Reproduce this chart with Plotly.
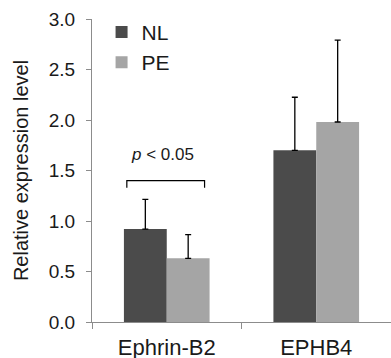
import plotly.graph_objects as go

categories = ["Ephrin-B2", "EPHB4"]
nl_values = [0.92, 1.70]
pe_values = [0.63, 1.98]
nl_err = [0.295, 0.525]
pe_err = [0.235, 0.81]
y_ticks = [0.0, 0.5, 1.0, 1.5, 2.0, 2.5, 3.0]

FONT = "Liberation Sans, Arial, sans-serif"
AX = "#8c8c8c"
TXT = "#1a1a1a"

fig = go.Figure()
fig.add_trace(go.Bar(
    x=categories, y=nl_values, name="NL", marker_color="#4b4b4b", marker_line_width=0,
    error_y=dict(type="data", array=nl_err, arrayminus=[0, 0], symmetric=False,
                 color="black", thickness=1.3, width=3),
))
fig.add_trace(go.Bar(
    x=categories, y=pe_values, name="PE", marker_color="#a5a5a5", marker_line_width=0,
    error_y=dict(type="data", array=pe_err, arrayminus=[0, 0], symmetric=False,
                 color="black", thickness=1.3, width=3),
))

# significance bracket
bracket_y = 1.40
bracket_drop = 0.07
fig.add_shape(type="path", xref="x", yref="y",
              path=f"M -0.267,{bracket_y-bracket_drop} L -0.267,{bracket_y} L 0.253,{bracket_y} L 0.253,{bracket_y-bracket_drop}",
              line=dict(color="black", width=1.2))
fig.add_annotation(x=-0.03, y=1.655, xref="x", yref="y", showarrow=False,
                   text="<i>p</i> < 0.05", font=dict(size=17, color=TXT, family=FONT))

fig.update_layout(
    width=391, height=358,
    margin=dict(l=92, r=0, t=19, b=36, autoexpand=False),
    paper_bgcolor="white", plot_bgcolor="white",
    barmode="group", bargap=0.427, bargroupgap=0,
    font=dict(family=FONT, color=TXT),
    showlegend=True,
    legend=dict(x=0.032, y=1.024, xanchor="left", yanchor="top",
                font=dict(size=21, color=TXT), bgcolor="rgba(0,0,0,0)",
                itemwidth=30, tracegroupgap=0),
    xaxis=dict(range=[-0.5, 1.5], showline=True, linecolor=AX, linewidth=1.2,
               ticks="outside", tickson="boundaries", ticklen=6, tickcolor=AX,
               tickfont=dict(size=22, color=TXT), showgrid=False, zeroline=False,
               automargin=False, ticklabelstandoff=5),
    yaxis=dict(range=[0, 3.0], tickvals=y_ticks, ticktext=[f"{v:.1f}" for v in y_ticks],
               showline=True, linecolor=AX, linewidth=1.2, ticks="outside", ticklen=5,
               tickcolor=AX, tickfont=dict(size=19, color=TXT), showgrid=False,
               zeroline=False, ticklabelstandoff=7, automargin=False,
               title=dict(text="Relative expression level", font=dict(size=20, color=TXT),
                          standoff=14)),
)

fig.write_html("out.html", config={"displayModeBar": False},
               post_script="document.body.style.margin='0';")
